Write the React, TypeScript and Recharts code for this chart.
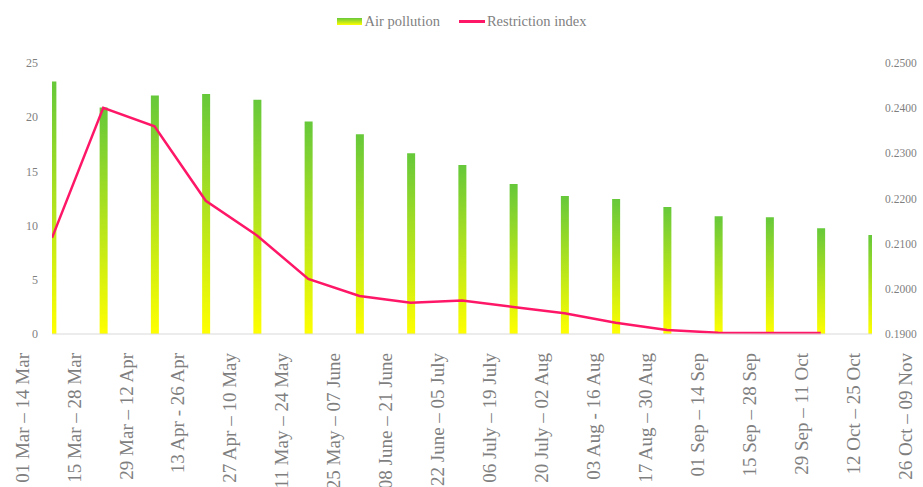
import { ComposedChart, Bar, Line, XAxis, YAxis } from "recharts";

// two-week periods, one more label than there are measurements
const periods = [
  "01 Mar – 14 Mar",
  "15 Mar – 28 Mar",
  "29 Mar – 12 Apr",
  "13 Apr - 26 Apr",
  "27 Apr – 10 May",
  "11 May – 24 May",
  "25 May – 07 June",
  "08 June – 21 June",
  "22 June – 05 July",
  "06 July – 19 July",
  "20 July – 02 Aug",
  "03 Aug - 16 Aug",
  "17 Aug – 30 Aug",
  "01 Sep – 14 Sep",
  "15 Sep – 28 Sep",
  "29 Sep – 11 Oct",
  "12 Oct – 25 Oct",
  "26 Oct – 09 Nov",
];

const airPollution = [
  23.3, 20.9, 22.0, 22.15, 21.6, 19.6, 18.42, 16.67, 15.59, 13.84, 12.73,
  12.45, 11.72, 10.86, 10.76, 9.75, 9.13,
];

const restrictionIndex = [
  0.2113, 0.2401, 0.236, 0.2195, 0.2118, 0.2022, 0.1984, 0.1969, 0.1974,
  0.196, 0.1946, 0.1925, 0.1909, 0.1903, 0.1902, 0.1902, null,
];

const pollutionTicks = [0, 5, 10, 15, 20, 25];
const restrictionTicks = [0.19, 0.2, 0.21, 0.22, 0.23, 0.24, 0.25];

const data = airPollution.map((value, i) => ({
  idx: i,
  period: periods[i],
  pollution: value,
  restriction: restrictionIndex[i],
}));

const barTicks = data.map((d) => d.idx);
const periodTicks = periods.map((_, i) => i);

const FONT = "'Liberation Serif', 'Times New Roman', serif";
const TEXT = "#7f7f7f";
const GRID = "#d9d9d9";
const LINE = "#ff1767";

const PeriodTick = ({ x, y, payload }: any) => (
  <text
    x={x}
    y={y + 15}
    transform={`rotate(-90 ${x} ${y + 15})`}
    textAnchor="end"
    dy="0.35em"
    fill={TEXT}
    fontSize={19}
    fontFamily={FONT}
  >
    {periods[payload.value]}
  </text>
);

const Legend = () => (
  <div
    style={{
      position: "absolute",
      top: 13,
      left: 0,
      width: 923,
      display: "flex",
      justifyContent: "center",
      alignItems: "center",
      fontFamily: FONT,
      fontSize: 14.5,
      color: TEXT,
      gap: 19,
    }}
  >
    <span style={{ display: "flex", alignItems: "center", gap: 3 }}>
      <span
        style={{
          width: 25,
          height: 7,
          background: "linear-gradient(#66c83a, #ffff00)",
        }}
      />
      Air pollution
    </span>
    <span style={{ display: "flex", alignItems: "center", gap: 2 }}>
      <span style={{ width: 26, height: 2.5, background: LINE }} />
      Restriction index
    </span>
  </div>
);

export default function App() {
  return (
    <div
      style={{
        position: "absolute",
        left: 0,
        top: 0,
        width: 923,
        height: 487,
        background: "#fff",
      }}
    >
      <Legend />
      <ComposedChart
        width={923}
        height={487}
        data={data}
        margin={{ top: 63, right: 0, bottom: 0, left: 0 }}
      >
        <defs>
          <linearGradient id="pollutionFill" x1="0" y1="0" x2="0" y2="1">
            <stop offset="0%" stopColor="#66c83a" />
            <stop offset="100%" stopColor="#ffff00" />
          </linearGradient>
        </defs>
        <XAxis
          xAxisId="bar"
          type="number"
          dataKey="idx"
          domain={[0, 16]}
          allowDataOverflow
          ticks={barTicks}
          interval={0}
          tick={false}
          tickSize={4}
          height={4}
          axisLine={{ stroke: GRID }}
          tickLine={{ stroke: GRID }}
        />
        {/* period labels sit on a slightly wider spacing than the bars */}
        <XAxis
          xAxisId="period"
          type="number"
          dataKey="idx"
          domain={[0, 16]}
          allowDataOverflow
          padding={{ left: -30, right: 19 }}
          ticks={periodTicks}
          interval={0}
          tick={<PeriodTick />}
          tickSize={0}
          tickMargin={0}
          height={149}
          axisLine={false}
          tickLine={false}
        />
        <YAxis
          yAxisId="pollution"
          width={52}
          domain={[0, 25]}
          ticks={pollutionTicks}
          axisLine={false}
          tickLine={false}
          tickMargin={8}
          tick={{ fill: TEXT, fontSize: 12, fontFamily: FONT }}
        />
        <YAxis
          yAxisId="restriction"
          orientation="right"
          width={51}
          domain={[0.19, 0.25]}
          ticks={restrictionTicks}
          axisLine={false}
          tickLine={false}
          tickMargin={7}
          tickFormatter={(v: number) => v.toFixed(4)}
          tick={{ fill: TEXT, fontSize: 11.5, fontFamily: FONT }}
        />
        <Bar
          xAxisId="bar"
          yAxisId="pollution"
          dataKey="pollution"
          barSize={8}
          fill="url(#pollutionFill)"
          isAnimationActive={false}
        />
        <Line
          xAxisId="bar"
          yAxisId="restriction"
          dataKey="restriction"
          type="linear"
          stroke={LINE}
          strokeWidth={2.5}
          dot={false}
          activeDot={false}
          isAnimationActive={false}
        />
      </ComposedChart>
    </div>
  );
}
